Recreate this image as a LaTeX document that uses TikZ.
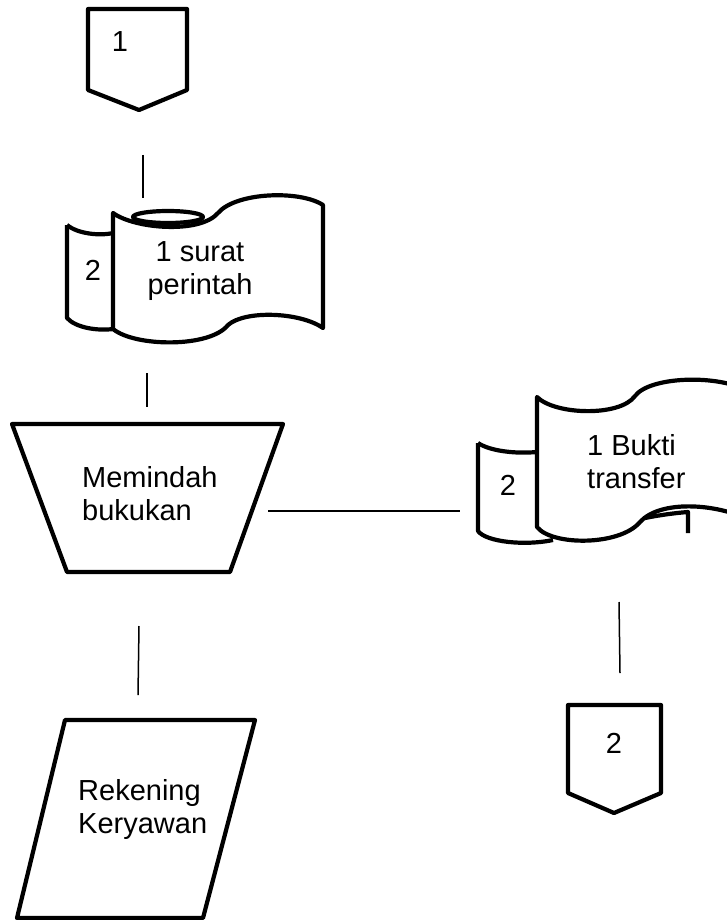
\documentclass[tikz,border=0pt]{standalone}
\usepackage{fontspec}
\setmainfont{Liberation Sans}
\usetikzlibrary{positioning}

\begin{document}
\begin{tikzpicture}[x=1pt ,y=-1pt ,
shape line/.style ={draw ,line width =4.2pt ,line join =round},
flow line/.style ={draw ,line width =1.5pt},
label text/.style ={font =\fontsize{29}{33}\selectfont ,align =left ,inner sep =0pt}]
\useasboundingbox (0,0) rectangle (727,920);
\clip (0,0) rectangle (727,920);

% off-page connector 1
\draw[shape line] (88,9) -- (187,9) -- (187,90) -- (139,110) -- (88,90) -- cycle;
\node[label text] (off1) at (120,42) {1};

% surat perintah
\draw[shape line] (67,225) -- (67,318) .. controls (76,328) and (98,331) .. (113,329);
\draw[shape line] (67,225) .. controls (78,234) and (100,236) .. (113,233);
\draw[shape line] (113,213) .. controls (135,229) and (200,234) .. (218,213)
  .. controls (236,192) and (300,190) .. (323,205) -- (323,328)
  .. controls (300,312) and (245,310) .. (228,325)
  .. controls (210,348) and (135,347) .. (113,329) -- cycle;
\draw[shape line] (168,217) ellipse [x radius =35 ,y radius =6];
\node[label text ,align =center] (surat) at (200,271) {1 surat\\perintah};
\node[label text] (surat2) at (93,270) {2};

% memindah bukukan
\draw[shape line] (12,424) -- (283,424) -- (230,572) -- (67,572) -- cycle;
\node[label text ,anchor =west] (pindah) at (82,494) {Memindah\\bukukan};

% rekening keryawan
\draw[shape line] (65,720) -- (255,720) -- (203,918) -- (17,918) -- cycle;
\node[label text ,anchor =west] (rekening) at (78,809) {Rekening\\Keryawan};

% bukti transfer
\draw[shape line] (478,443) -- (478,531) .. controls (486,542) and (525,546) .. (553,540);
\draw[shape line] (478,443) .. controls (490,451) and (515,454) .. (537,452);
\draw[shape line] (537,397) .. controls (555,415) and (620,417) .. (635,396)
  .. controls (650,376) and (720,374) .. (750,392) -- (750,520)
  .. controls (715,503) and (660,500) .. (640,522)
  .. controls (620,546) and (552,546) .. (537,527) -- cycle;
\draw[shape line] (645,518) .. controls (660,515) and (675,513) .. (688,512) -- (688,533);
\node[label text ,anchor =west] (bukti) at (587,462) {1 Bukti\\transfer};
\node[label text] (bukti2) at (508,485) {2};

% off-page connector 2
\draw[shape line] (568,705) -- (661,705) -- (661,793) -- (614,813) -- (568,793) -- cycle;
\node[label text] (off2) at (614,743) {2};

% flow lines
\coordinate (off1 out) at (143,155);
\coordinate (surat in) at (143,198);
\coordinate (surat out) at (147,373);
\coordinate (pindah in) at (147,407);
\coordinate (pindah out) at (268,511);
\coordinate (bukti in) at (460,511);
\coordinate (bukti out) at (619,602);
\coordinate (off2 in) at (620,673);
\coordinate (pindah down) at (139,626);
\coordinate (rekening in) at (138,695);
\draw[flow line] (off1 out) -- (surat in);
\draw[flow line] (surat out) -- (pindah in);
\draw[flow line] (pindah out) -- (bukti in);
\draw[flow line] (bukti out) -- (off2 in);
\draw[flow line] (pindah down) -- (rekening in);

\end{tikzpicture}
\end{document}
